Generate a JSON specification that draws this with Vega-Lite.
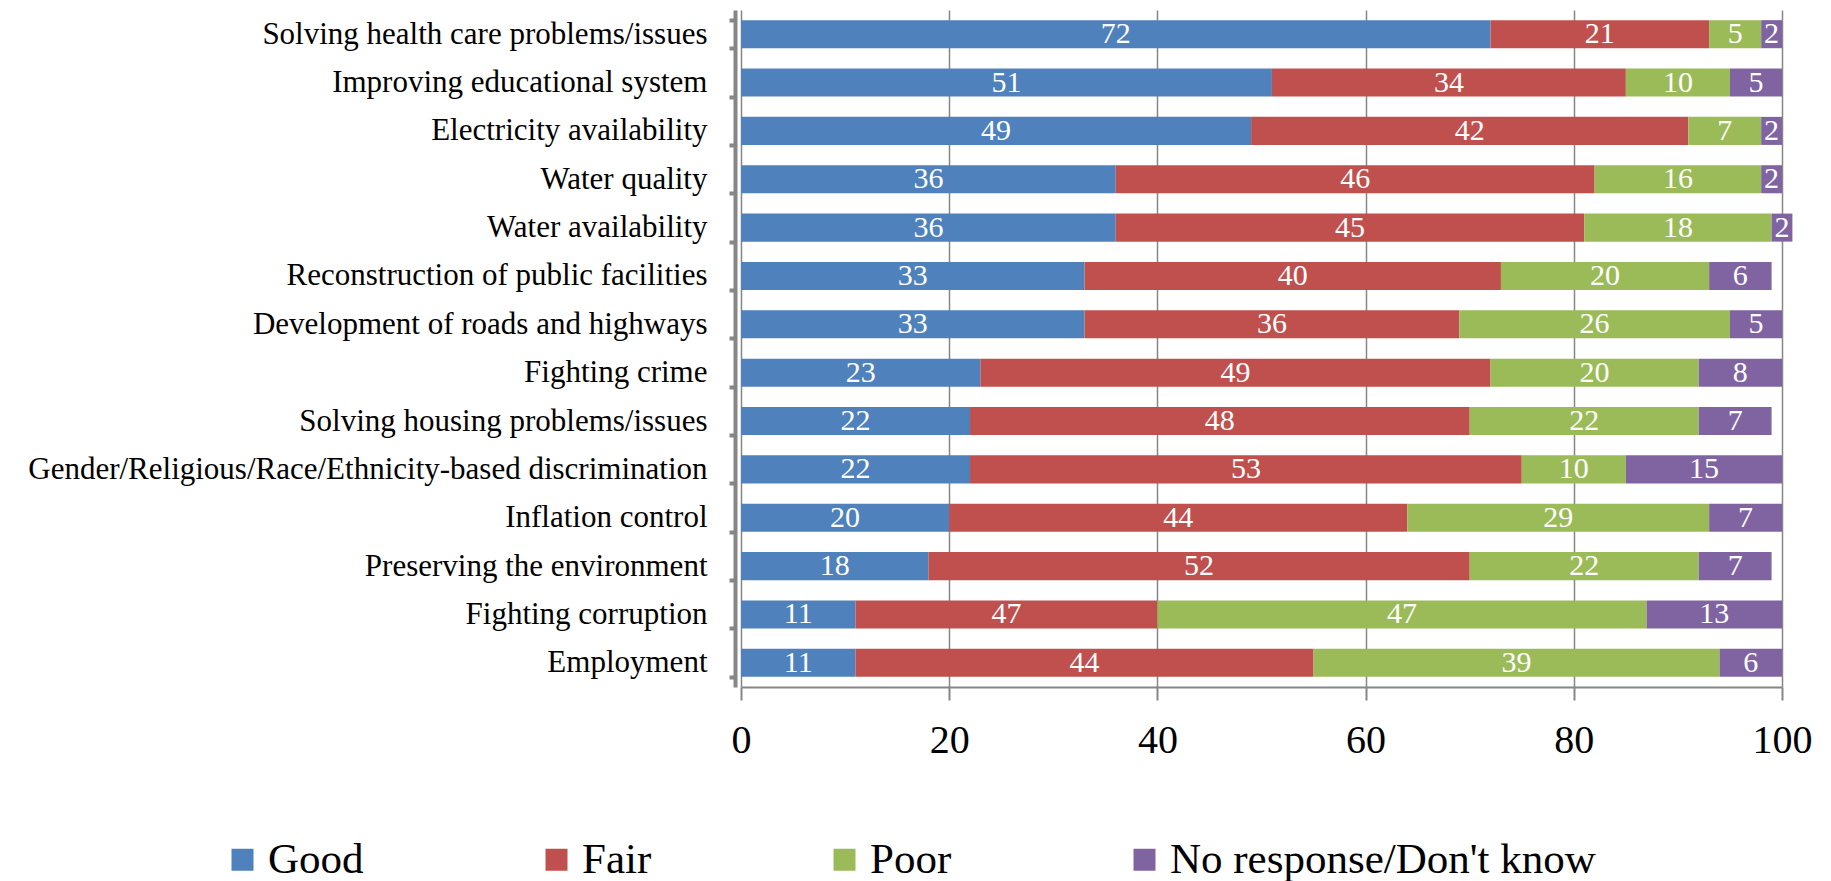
{
  "$schema": "https://vega.github.io/schema/vega-lite/v6.json",
  "autosize": "none",
  "padding": {"left": 741, "top": 10, "right": 49, "bottom": 194},
  "width": 1041,
  "height": 677,
  "background": "white",
  "config": {"font": "Liberation Serif", "view": {"stroke": null}},
  "data": {"values": [
    {"item": "Solving health care problems/issues", "cat": "Good", "k": 1, "value": 72, "label": "72"},
    {"item": "Solving health care problems/issues", "cat": "Fair", "k": 2, "value": 21, "label": "21"},
    {"item": "Solving health care problems/issues", "cat": "Poor", "k": 3, "value": 5, "label": "5"},
    {"item": "Solving health care problems/issues", "cat": "No response/Don't know", "k": 4, "value": 2, "label": "2"},
    {"item": "Improving educational system", "cat": "Good", "k": 1, "value": 51, "label": "51"},
    {"item": "Improving educational system", "cat": "Fair", "k": 2, "value": 34, "label": "34"},
    {"item": "Improving educational system", "cat": "Poor", "k": 3, "value": 10, "label": "10"},
    {"item": "Improving educational system", "cat": "No response/Don't know", "k": 4, "value": 5, "label": "5"},
    {"item": "Electricity availability", "cat": "Good", "k": 1, "value": 49, "label": "49"},
    {"item": "Electricity availability", "cat": "Fair", "k": 2, "value": 42, "label": "42"},
    {"item": "Electricity availability", "cat": "Poor", "k": 3, "value": 7, "label": "7"},
    {"item": "Electricity availability", "cat": "No response/Don't know", "k": 4, "value": 2, "label": "2"},
    {"item": "Water quality", "cat": "Good", "k": 1, "value": 36, "label": "36"},
    {"item": "Water quality", "cat": "Fair", "k": 2, "value": 46, "label": "46"},
    {"item": "Water quality", "cat": "Poor", "k": 3, "value": 16, "label": "16"},
    {"item": "Water quality", "cat": "No response/Don't know", "k": 4, "value": 2, "label": "2"},
    {"item": "Water availability", "cat": "Good", "k": 1, "value": 36, "label": "36"},
    {"item": "Water availability", "cat": "Fair", "k": 2, "value": 45, "label": "45"},
    {"item": "Water availability", "cat": "Poor", "k": 3, "value": 18, "label": "18"},
    {"item": "Water availability", "cat": "No response/Don't know", "k": 4, "value": 2, "label": "2"},
    {"item": "Reconstruction of public facilities", "cat": "Good", "k": 1, "value": 33, "label": "33"},
    {"item": "Reconstruction of public facilities", "cat": "Fair", "k": 2, "value": 40, "label": "40"},
    {"item": "Reconstruction of public facilities", "cat": "Poor", "k": 3, "value": 20, "label": "20"},
    {"item": "Reconstruction of public facilities", "cat": "No response/Don't know", "k": 4, "value": 6, "label": "6"},
    {"item": "Development of roads and highways", "cat": "Good", "k": 1, "value": 33, "label": "33"},
    {"item": "Development of roads and highways", "cat": "Fair", "k": 2, "value": 36, "label": "36"},
    {"item": "Development of roads and highways", "cat": "Poor", "k": 3, "value": 26, "label": "26"},
    {"item": "Development of roads and highways", "cat": "No response/Don't know", "k": 4, "value": 5, "label": "5"},
    {"item": "Fighting crime", "cat": "Good", "k": 1, "value": 23, "label": "23"},
    {"item": "Fighting crime", "cat": "Fair", "k": 2, "value": 49, "label": "49"},
    {"item": "Fighting crime", "cat": "Poor", "k": 3, "value": 20, "label": "20"},
    {"item": "Fighting crime", "cat": "No response/Don't know", "k": 4, "value": 8, "label": "8"},
    {"item": "Solving housing problems/issues", "cat": "Good", "k": 1, "value": 22, "label": "22"},
    {"item": "Solving housing problems/issues", "cat": "Fair", "k": 2, "value": 48, "label": "48"},
    {"item": "Solving housing problems/issues", "cat": "Poor", "k": 3, "value": 22, "label": "22"},
    {"item": "Solving housing problems/issues", "cat": "No response/Don't know", "k": 4, "value": 7, "label": "7"},
    {"item": "Gender/Religious/Race/Ethnicity-based discrimination", "cat": "Good", "k": 1, "value": 22, "label": "22"},
    {"item": "Gender/Religious/Race/Ethnicity-based discrimination", "cat": "Fair", "k": 2, "value": 53, "label": "53"},
    {"item": "Gender/Religious/Race/Ethnicity-based discrimination", "cat": "Poor", "k": 3, "value": 10, "label": "10"},
    {"item": "Gender/Religious/Race/Ethnicity-based discrimination", "cat": "No response/Don't know", "k": 4, "value": 15, "label": "15"},
    {"item": "Inflation control", "cat": "Good", "k": 1, "value": 20, "label": "20"},
    {"item": "Inflation control", "cat": "Fair", "k": 2, "value": 44, "label": "44"},
    {"item": "Inflation control", "cat": "Poor", "k": 3, "value": 29, "label": "29"},
    {"item": "Inflation control", "cat": "No response/Don't know", "k": 4, "value": 7, "label": "7"},
    {"item": "Preserving the environment", "cat": "Good", "k": 1, "value": 18, "label": "18"},
    {"item": "Preserving the environment", "cat": "Fair", "k": 2, "value": 52, "label": "52"},
    {"item": "Preserving the environment", "cat": "Poor", "k": 3, "value": 22, "label": "22"},
    {"item": "Preserving the environment", "cat": "No response/Don't know", "k": 4, "value": 7, "label": "7"},
    {"item": "Fighting corruption", "cat": "Good", "k": 1, "value": 11, "label": "11"},
    {"item": "Fighting corruption", "cat": "Fair", "k": 2, "value": 29, "label": "47"},
    {"item": "Fighting corruption", "cat": "Poor", "k": 3, "value": 47, "label": "47"},
    {"item": "Fighting corruption", "cat": "No response/Don't know", "k": 4, "value": 13, "label": "13"},
    {"item": "Employment", "cat": "Good", "k": 1, "value": 11, "label": "11"},
    {"item": "Employment", "cat": "Fair", "k": 2, "value": 44, "label": "44"},
    {"item": "Employment", "cat": "Poor", "k": 3, "value": 39, "label": "39"},
    {"item": "Employment", "cat": "No response/Don't know", "k": 4, "value": 6, "label": "6"}
  ]},
  "encoding": {
    "y": {
      "field": "item", "type": "nominal", "sort": null,
      "scale": {"paddingInner": 0.42, "paddingOuter": 0.21},
      "axis": {
        "title": null, "labelFontSize": 31, "labelColor": "black", "labelLimit": 900,
        "labelFont": "Liberation Serif",
        "domainColor": "#868686", "domainWidth": 4,
        "tickColor": "#868686", "tickWidth": 4, "tickSize": 6, "tickBand": "extent",
        "offset": 6, "labelPadding": 22, "grid": false
      }
    }
  },
  "layer": [
    {
      "mark": {"type": "bar"},
      "encoding": {
        "x": {
          "field": "value", "type": "quantitative", "stack": "zero",
          "scale": {"domain": [0, 100], "nice": false},
          "axis": {
            "title": null, "values": [0, 20, 40, 60, 80, 100],
            "labelFont": "Liberation Serif",
            "labelFontSize": 40, "labelColor": "black", "labelFlush": false,
            "domainColor": "#868686", "domainWidth": 2,
            "tickColor": "#868686", "tickWidth": 2, "tickSize": 13, "labelPadding": 20,
            "grid": true, "gridColor": "#868686", "gridWidth": 1.5
          }
        },
        "color": {
          "field": "cat", "type": "nominal",
          "scale": {"domain": ["Good", "Fair", "Poor", "No response/Don't know"], "range": ["#4F81BD", "#C0504D", "#9BBB59", "#8064A2"]},
          "legend": {
            "title": null, "orient": "none", "legendX": -520, "legendY": 828, "direction": "horizontal",
            "labelFont": "Liberation Serif",
            "symbolType": "square", "symbolSize": 484, "symbolStrokeWidth": 0,
            "labelFontSize": 43, "labelColor": "black", "labelOffset": 4, "columnPadding": 171, "labelLimit": 700
          }
        },
        "order": {"field": "k", "type": "quantitative"}
      }
    },
    {
      "mark": {"type": "text", "color": "white", "fontSize": 30, "baseline": "middle", "font": "Liberation Serif"},
      "encoding": {
        "x": {"field": "value", "type": "quantitative", "stack": "zero", "bandPosition": 0.5},
        "detail": {"field": "cat", "type": "nominal"},
        "order": {"field": "k", "type": "quantitative"},
        "text": {"field": "label", "type": "nominal"}
      }
    }
  ]
}
